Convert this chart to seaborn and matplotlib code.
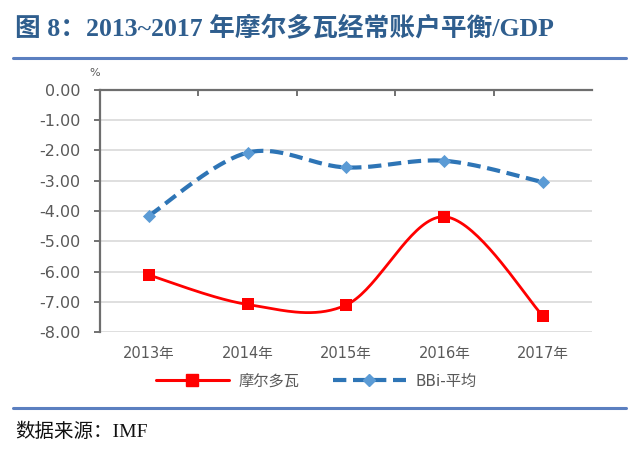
import numpy as np
import pandas as pd
import matplotlib
matplotlib.use("Agg")
import matplotlib.pyplot as plt
from matplotlib.lines import Line2D
import seaborn as sns

years = ["2013年", "2014年", "2015年", "2016年", "2017年"]
moldova = [-6.12, -7.09, -7.11, -4.19, -7.46]
bbi_avg = [-4.15, -2.07, -2.56, -2.34, -3.05]
series_names = ["摩尔多瓦", "BBi-平均"]
y_ticks = [0, -1, -2, -3, -4, -5, -6, -7, -8]
title = "图 8：2013~2017 年摩尔多瓦经常账户平衡/GDP"
source = "数据来源：IMF"

sns.set_theme(style="white")
plt.rcParams['font.family'] = ['DejaVu Sans', 'Noto Sans CJK SC']


def smooth(vals, n=40):
    """Excel-style smoothed curve (Bezier from Catmull-Rom tangents)."""
    p = np.column_stack([np.arange(len(vals), dtype=float), np.asarray(vals, float)])
    ext = np.vstack([p[0], p, p[-1]])
    xs, ys = [], []
    t = np.linspace(0, 1, n)
    for i in range(len(p) - 1):
        p0, p3 = ext[i + 1], ext[i + 2]
        c1 = p0 + (ext[i + 2] - ext[i]) / 6.0
        c2 = p3 - (ext[i + 3] - ext[i + 1]) / 6.0
        b = ((1 - t) ** 3)[:, None] * p0 + (3 * (1 - t) ** 2 * t)[:, None] * c1 \
            + (3 * (1 - t) * t ** 2)[:, None] * c2 + (t ** 3)[:, None] * p3
        xs.extend(b[:, 0]); ys.extend(b[:, 1])
    return pd.DataFrame({"x": xs, "y": ys})


fig = plt.figure(figsize=(6.4, 4.51), dpi=100)
ax = fig.add_axes([100 / 640, 1 - 332 / 451, 492 / 640, 242 / 451])

red = "#FF0000"
blue_line = "#2E75B6"
blue_mk = "#5B9BD5"

sm_r = smooth(moldova)
sm_b = smooth(bbi_avg)
sns.lineplot(data=sm_r, x="x", y="y", ax=ax, sort=False, estimator=None,
             color=red, linewidth=2.0, zorder=3)
sns.lineplot(data=sm_b, x="x", y="y", ax=ax, sort=False, estimator=None,
             color=blue_line, linewidth=3.0, zorder=3)
ax.lines[-1].set_dashes([3.2, 1.6])
ax.lines[-1].set_dash_capstyle("butt")

pts = pd.DataFrame({"x": np.arange(len(years)), "r": moldova, "b": bbi_avg})
sns.scatterplot(data=pts, x="x", y="r", ax=ax, marker="s", s=80, color=red,
                edgecolor=red, linewidth=0, zorder=4)
sns.scatterplot(data=pts, x="x", y="b", ax=ax, marker="D", s=45, color=blue_mk,
                edgecolor=blue_mk, linewidth=0, zorder=4)

ax.set_xlim(-0.5, len(years) - 0.5)
ax.set_ylim(-8, 0)
ax.set_xlabel("")
ax.set_ylabel("")
ax.set_xticks(range(len(years)))
ax.set_xticklabels(years, fontsize=10.5, color="#595959",
                   family=['DejaVu Sans', 'Noto Sans CJK SC'])
ax.set_xticks([0.5, 1.5, 2.5, 3.5], minor=True)
ax.tick_params(axis="x", which="major", length=0, pad=10)
ax.tick_params(axis="x", which="minor", top=True, bottom=False, direction="in",
               length=4, width=1.2, color="#595959")
ax.set_yticks(y_ticks)
ax.set_yticklabels([f"{v:.2f}" if v != 0 else "0.00" for v in y_ticks],
                   fontsize=11.5, color="#595959")
ax.tick_params(axis="y", which="major", left=True, direction="out", length=4,
               width=1.2, color="#595959", pad=10)
ax.yaxis.grid(True, color="#D9D9D9", linewidth=1.2)
ax.set_axisbelow(True)
for s in ["right", "bottom"]:
    ax.spines[s].set_visible(False)
for s in ["left", "top"]:
    ax.spines[s].set_visible(True)
    ax.spines[s].set_color("#6E6E6E")
    ax.spines[s].set_linewidth(1.6)

fig.text(95 / 640, 1 - 73 / 451, "%", fontsize=8, color="#595959",
         ha="center", va="center")

handles = [
    Line2D([], [], color=red, linewidth=2.2, marker="s", markersize=8,
           markerfacecolor=red, markeredgecolor=red),
    Line2D([], [], color=blue_line, linewidth=3.0, dashes=[3.2, 1.6],
           marker="D", markersize=6, markerfacecolor=blue_mk,
           markeredgecolor=blue_mk),
]
fig.legend(handles, series_names, loc="center",
           bbox_to_anchor=(316 / 640, 1 - 381 / 451), ncol=2, frameon=False,
           handlelength=4.8, columnspacing=2.2, handletextpad=0.6,
           prop={"family": ['DejaVu Sans', 'Noto Sans CJK SC'], "size": 11},
           labelcolor="#595959")

fig.text(15 / 640, 1 - 28 / 451, title, fontsize=18.5, fontweight="bold",
         color="#2F5E8E", ha="left", va="center",
         family=['Liberation Serif', 'Noto Sans CJK SC'])
fig.add_artist(Line2D([13 / 640, 626 / 640], [1 - 58 / 451, 1 - 58 / 451],
                      color="#5B7FC0", linewidth=2.2))
fig.add_artist(Line2D([13 / 640, 626 / 640], [1 - 408 / 451, 1 - 408 / 451],
                      color="#5B7FC0", linewidth=2.2))
fig.text(15 / 640, 1 - 432 / 451, source, fontsize=14, color="#111111",
         ha="left", va="center", family=['Liberation Serif', 'Noto Sans CJK SC'])

fig.savefig("out.png", dpi=100)
